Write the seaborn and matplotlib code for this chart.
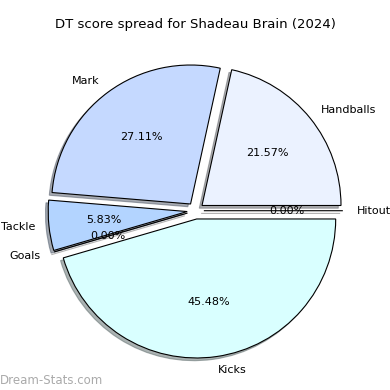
import matplotlib
matplotlib.use("Agg")
import matplotlib.pyplot as plt
import seaborn as sns

sns.set_theme(style="white")
plt.rcParams['font.family'] = ['DejaVu Sans']
plt.rcParams['text.color'] = 'black'

labels = ['Handballs', 'Mark', 'Tackle', 'Goals', 'Kicks', 'Hitout']
values = [21.57, 27.11, 5.83, 0.0, 45.48, 0.0]
colors = ['#ebf2ff', '#c5d9ff', '#b3d4ff', '#ffffff', '#d9ffff', '#ffffff']

fig = plt.figure(figsize=(3.9, 3.9), dpi=100)
ax = fig.add_axes([0.0558, 0.0142, 0.891, 0.891])
ax.pie(values, labels=labels, colors=colors, explode=[0.06] * len(values),
       autopct='%1.2f%%', startangle=0,
       shadow={'ox': -0.014, 'oy': -0.014, 'shade': 0.6},
       wedgeprops={'edgecolor': 'black', 'linewidth': 0.8},
       textprops={'fontsize': 8, 'color': 'black'})
ax.set_aspect('equal')
fig.suptitle('DT score spread for Shadeau Brain (2024)', fontsize=9.5, y=0.955,
             color='black')
fig.text(0.0, 0.015, 'Dream-Stats.com', fontsize=8.5, color='#aaaaaa', ha='left')
fig.savefig('out.png', dpi=100)
